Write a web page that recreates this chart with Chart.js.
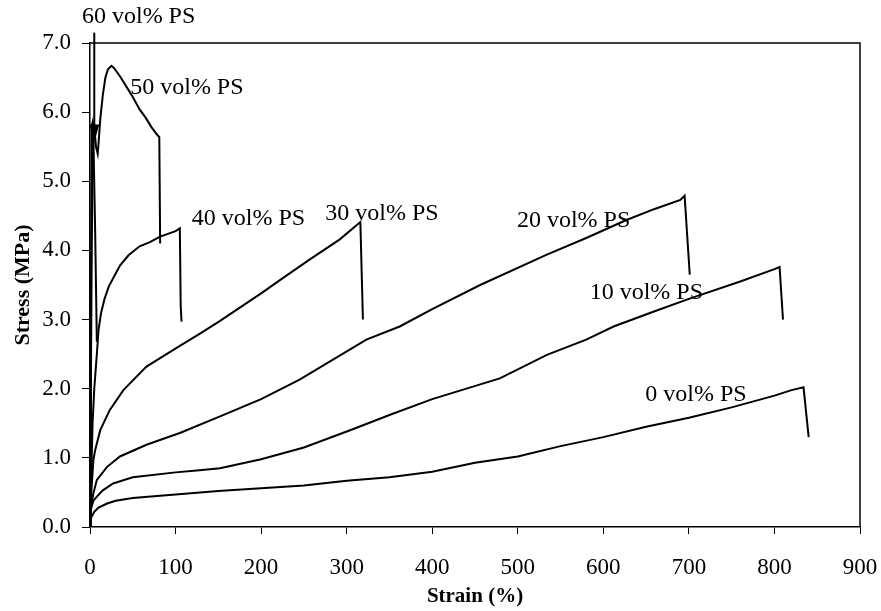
<!DOCTYPE html>
<html>
<head>
<meta charset="utf-8">
<script src="https://cdn.jsdelivr.net/npm/chart.js@4.4.0/dist/chart.umd.min.js"></script>
<style>
  body { margin: 0; background: #fff; }
  #wrap { width: 881px; height: 611px; }
</style>
</head>
<body>
<div id="wrap"><canvas id="chartscreen" width="881" height="611"></canvas></div>
<script>
// stress-strain curves (strain %, stress MPa)
const strain0 = [0, 2, 5, 10, 20, 30, 50, 100, 150, 200, 250, 300, 350, 400, 450, 500, 550, 600, 650, 700, 750, 800, 820, 834, 840];
const stress0 = [0.1, 0.15, 0.22, 0.28, 0.34, 0.38, 0.42, 0.47, 0.52, 0.56, 0.6, 0.67, 0.72, 0.8, 0.93, 1.02, 1.17, 1.3, 1.45, 1.58, 1.73, 1.9, 1.98, 2.02, 1.3];

const strain10 = [0, 2, 4, 8, 15, 27, 50, 100, 128, 152, 200, 250, 304, 350, 400, 479, 534, 580, 612, 660, 700, 760, 800, 806, 810];
const stress10 = [0.2, 0.3, 0.38, 0.44, 0.53, 0.63, 0.72, 0.79, 0.82, 0.85, 0.98, 1.15, 1.4, 1.62, 1.85, 2.15, 2.49, 2.71, 2.9, 3.12, 3.3, 3.55, 3.73, 3.76, 3.0];

const strain20 = [0, 2, 4, 8, 20, 35, 66, 105, 152, 200, 245, 323, 362, 400, 456, 534, 580, 627, 660, 690, 695, 701];
const stress20 = [0.2, 0.35, 0.49, 0.68, 0.87, 1.02, 1.19, 1.36, 1.6, 1.85, 2.13, 2.71, 2.9, 3.15, 3.5, 3.94, 4.18, 4.44, 4.6, 4.73, 4.79, 3.65];

const strain30 = [0, 2, 4, 6, 12, 23, 39, 66, 105, 129, 152, 200, 222, 257, 292, 316, 319];
const stress30 = [0.2, 0.6, 0.97, 1.11, 1.4, 1.69, 1.98, 2.32, 2.62, 2.8, 2.98, 3.38, 3.57, 3.87, 4.16, 4.41, 3.0];

const strain40 = [0, 1, 2, 3, 5, 8, 10, 13, 17, 22, 28, 35, 45, 58, 70, 82, 100, 105, 106, 107];
const stress40 = [0, 0.5, 1.0, 1.5, 2.0, 2.5, 2.85, 3.1, 3.3, 3.48, 3.62, 3.78, 3.93, 4.06, 4.12, 4.2, 4.28, 4.32, 3.2, 2.97];

const strain50 = [0, 1, 2, 3, 4, 5, 7, 9, 10, 12, 15, 18, 21, 25, 28, 35, 42, 50, 58, 65, 72, 78, 81, 82];
const stress50 = [0, 2, 4, 5.2, 5.7, 5.8, 5.5, 5.4, 5.55, 5.9, 6.25, 6.5, 6.62, 6.67, 6.64, 6.52, 6.38, 6.22, 6.04, 5.92, 5.78, 5.68, 5.64, 4.1];

const strain60 = [0, 1, 2, 3, 4, 6, 8];
const stress60 = [0, 3, 5.8, 5.85, 5.6, 4.3, 2.68];

const seriesNames = ['0 vol% PS', '10 vol% PS', '20 vol% PS', '30 vol% PS', '40 vol% PS', '50 vol% PS', '60 vol% PS'];
const xTicks = [0, 100, 200, 300, 400, 500, 600, 700, 800, 900];
const yTicks = [0, 1, 2, 3, 4, 5, 6, 7];

// where the curve labels sit (strain, stress)
const labelX = [649, 584, 499, 275, 119, 47, -9.4];
const labelY = [1.91, 3.39, 4.43, 4.53, 4.46, 6.36, 7.38];

// arrow from the 60 vol% label down to its curve
const arrowX = [5, 5];
const arrowY = [7.15, 5.56];

function pts(xs, ys) {
  var out = [];
  for (var i = 0; i < xs.length; i++) {
    out.push({x: xs[i], y: ys[i]});
  }
  return out;
}

const allStrain = [strain0, strain10, strain20, strain30, strain40, strain50, strain60];
const allStress = [stress0, stress10, stress20, stress30, stress40, stress50, stress60];

var datasets = [];
for (var i = 0; i < seriesNames.length; i++) {
  datasets.push({
    label: seriesNames[i],
    data: pts(allStrain[i], allStress[i]),
    borderColor: '#000',
    borderWidth: 2,
    pointRadius: 0,
    tension: 0,
    fill: false
  });
}

const FONT = "'Liberation Serif', 'Times New Roman', serif";

// box round the plot + curve labels + arrow
const extras = {
  id: 'extras',
  afterDatasetsDraw(chart) {
    const ctx = chart.ctx;
    const a = chart.chartArea;
    const xs = chart.scales.x, ys = chart.scales.y;
    ctx.save();
    ctx.strokeStyle = '#000';
    ctx.lineWidth = 1.5;
    ctx.beginPath();
    ctx.moveTo(a.left, a.top);
    ctx.lineTo(a.right, a.top);
    ctx.lineTo(a.right, a.bottom);
    ctx.stroke();

    ctx.fillStyle = '#000';
    ctx.font = '24px ' + FONT;
    ctx.textAlign = 'left';
    ctx.textBaseline = 'middle';
    for (var i = 0; i < seriesNames.length; i++) {
      ctx.fillText(seriesNames[i], xs.getPixelForValue(labelX[i]), ys.getPixelForValue(labelY[i]));
    }

    var ax = xs.getPixelForValue(arrowX[0]);
    var ay0 = ys.getPixelForValue(arrowY[0]);
    var ay1 = ys.getPixelForValue(arrowY[1]);
    ctx.lineWidth = 2;
    ctx.beginPath();
    ctx.moveTo(ax, ay0);
    ctx.lineTo(ax, ay1 - 14);
    ctx.stroke();
    ctx.beginPath();
    ctx.moveTo(ax - 5, ay1 - 18);
    ctx.lineTo(ax + 5, ay1 - 18);
    ctx.lineTo(ax, ay1);
    ctx.closePath();
    ctx.fill();
    ctx.restore();
  }
};

new Chart(document.getElementById('chartscreen'), {
  type: 'line',
  data: { datasets: datasets },
  options: {
    responsive: false,
    animation: false,
    layout: { padding: { left: 0, top: 43, right: 21, bottom: 0 } },
    plugins: {
      legend: { display: false },
      tooltip: { enabled: false }
    },
    scales: {
      x: {
        type: 'linear',
        min: 0,
        max: 900,
        afterFit: function(s) { s.height = 84; s.paddingLeft = 0; s.paddingRight = 0; },
        afterBuildTicks: function(s) { s.ticks = xTicks.map(v => ({value: v})); },
        border: { display: true, color: '#000', width: 1.5 },
        grid: { drawOnChartArea: false, drawTicks: true, tickLength: 7, color: '#000', lineWidth: 1 },
        ticks: { color: '#000', padding: 20, font: { family: FONT, size: 23 } },
        title: { display: true, text: 'Strain (%)', color: '#000', padding: { top: 0, bottom: 2 },
                 font: { family: FONT, size: 21, weight: 'bold' } }
      },
      y: {
        type: 'linear',
        min: 0,
        max: 7,
        afterFit: function(s) { s.width = 90; },
        afterBuildTicks: function(s) { s.ticks = yTicks.map(v => ({value: v})); },
        border: { display: true, color: '#000', width: 1.5 },
        grid: { drawOnChartArea: false, drawTicks: true, tickLength: 8, color: '#000', lineWidth: 1 },
        ticks: { color: '#000', padding: 11, font: { family: FONT, size: 23 },
                 callback: function(v) { return v.toFixed(1); } },
        title: { display: true, text: 'Stress (MPa)', color: '#000', padding: { top: 10, bottom: 0 },
                 font: { family: FONT, size: 22, weight: 'bold' } }
      }
    }
  },
  plugins: [extras]
});
</script>
</body>
</html>
